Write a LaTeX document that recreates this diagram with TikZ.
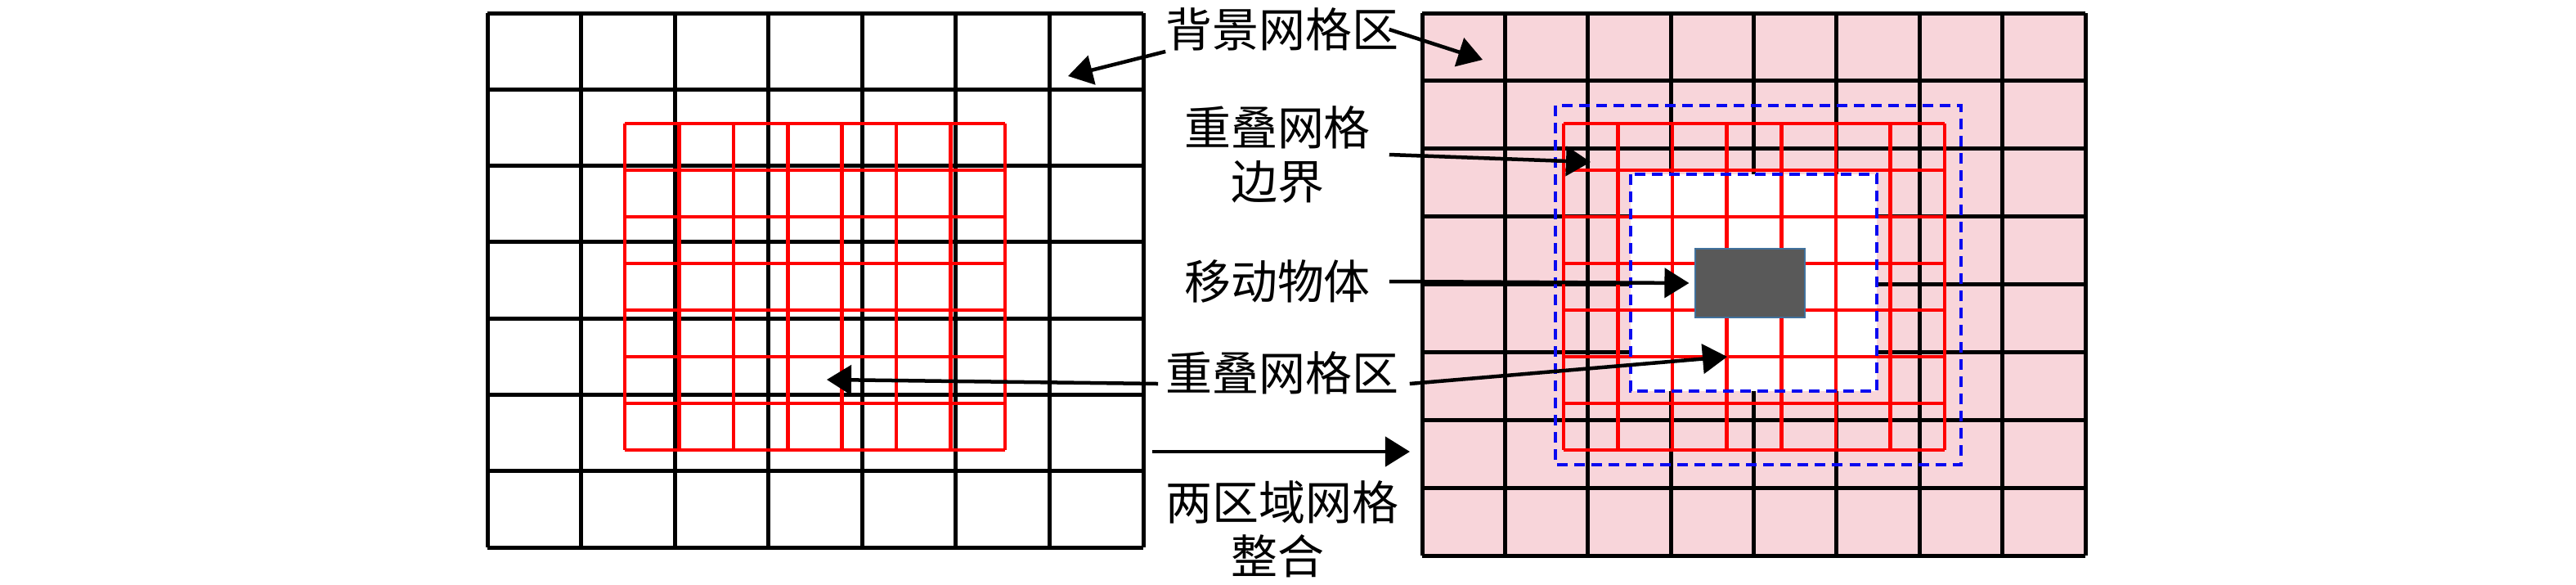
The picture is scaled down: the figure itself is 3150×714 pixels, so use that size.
\documentclass[tikz,border=0pt]{standalone}
\usepackage{fontspec}
\newfontfamily\cjk{Noto Sans CJK SC}
\usetikzlibrary{arrows.meta}
\definecolor{bgpink}{HTML}{F8D5DA}
\definecolor{objgray}{HTML}{595959}
\definecolor{objedge}{HTML}{41719C}
\definecolor{dashblue}{HTML}{0A0AF0}

\begin{document}
\begin{tikzpicture}[x=0.01cm,y=-0.01cm,
  blackline/.style={line width=0.05cm,black},
  redline/.style={line width=0.045cm,red},
  dashline/.style={line width=0.045cm,dashblue,dash pattern=on 0.13cm off 0.08cm},
  arr/.style={line width=0.045cm,-{Triangle[length=0.3cm,width=0.36cm]}},
  lbl/.style={text width=2.72cm,align=center,inner sep=0pt,font=\cjk\fontsize{16.2}{18.8}\selectfont}]
\useasboundingbox (0,0) rectangle (3150,714);

\foreach \i in {0,...,7} \draw[blackline] ({596+\i*114.57},16) -- ({596+\i*114.57},669);
\foreach \i in {0,...,7} \draw[blackline] (596,{16+\i*93.29}) -- (1398,{16+\i*93.29});
\foreach \i in {0,...,7} \draw[redline] ({764+\i*66.43},151) -- ({764+\i*66.43},550);
\foreach \i in {0,...,7} \draw[redline] (764,{151+\i*57}) -- (1229,{151+\i*57});

\fill[bgpink] (1739,16) rectangle (2550,679);
\foreach \i in {0,...,8} \draw[blackline] ({1739+\i*101.375},16) -- ({1739+\i*101.375},679);
\foreach \i in {0,...,8} \draw[blackline] (1739,{16+\i*82.875}) -- (2550,{16+\i*82.875});
\fill[white] (1994,213) rectangle (2295,478);
\foreach \i in {0,...,7} \draw[redline] ({1912+\i*66.57},151) -- ({1912+\i*66.57},550);
\foreach \i in {0,...,7} \draw[redline] (1912,{151+\i*57}) -- (2378,{151+\i*57});
\draw[dashline] (1902,129) rectangle (2398,568);
\draw[dashline] (1994,213) rectangle (2295,478);
\node[fill=objgray,draw=objedge,line width=0.02cm,minimum width=1.33cm,minimum height=0.84cm,inner sep=0pt] (obj) at (2140,346) {};

\node[lbl] (bg) at (1562,36) {背景网格区};
\node[lbl] (bd) at (1562,189) {重叠网格\\边界};
\node[lbl] (mv) at (1562,344) {移动物体};
\node[lbl] (ov) at (1562,456) {重叠网格区};
\node[lbl] (mg) at (1562,647) {两区域网格\\整合};

\coordinate (bgR) at (1813,73);
\coordinate (bgL) at (1306,93);
\coordinate (bdR) at (1945,198);
\coordinate (ovR) at (2112,436);
\coordinate (ovL) at (1011,464);
\coordinate (mgA) at (1409,552);
\coordinate (mgB) at (1724,552);

\draw[arr] (bg.east) -- (bgR);
\draw[arr] (bg.south west) -- (bgL);
\draw[arr] (bd.east) -- (bdR);
\draw[arr,shorten >=0.07cm] (mv.east) -- (obj.west);
\draw[arr] ([xshift=0.25cm,yshift=-0.13cm]ov.east) -- (ovR);
\draw[arr] ([xshift=-0.09cm,yshift=-0.13cm]ov.west) -- (ovL);
\draw[arr] (mgA) -- (mgB);

\end{tikzpicture}
\end{document}
